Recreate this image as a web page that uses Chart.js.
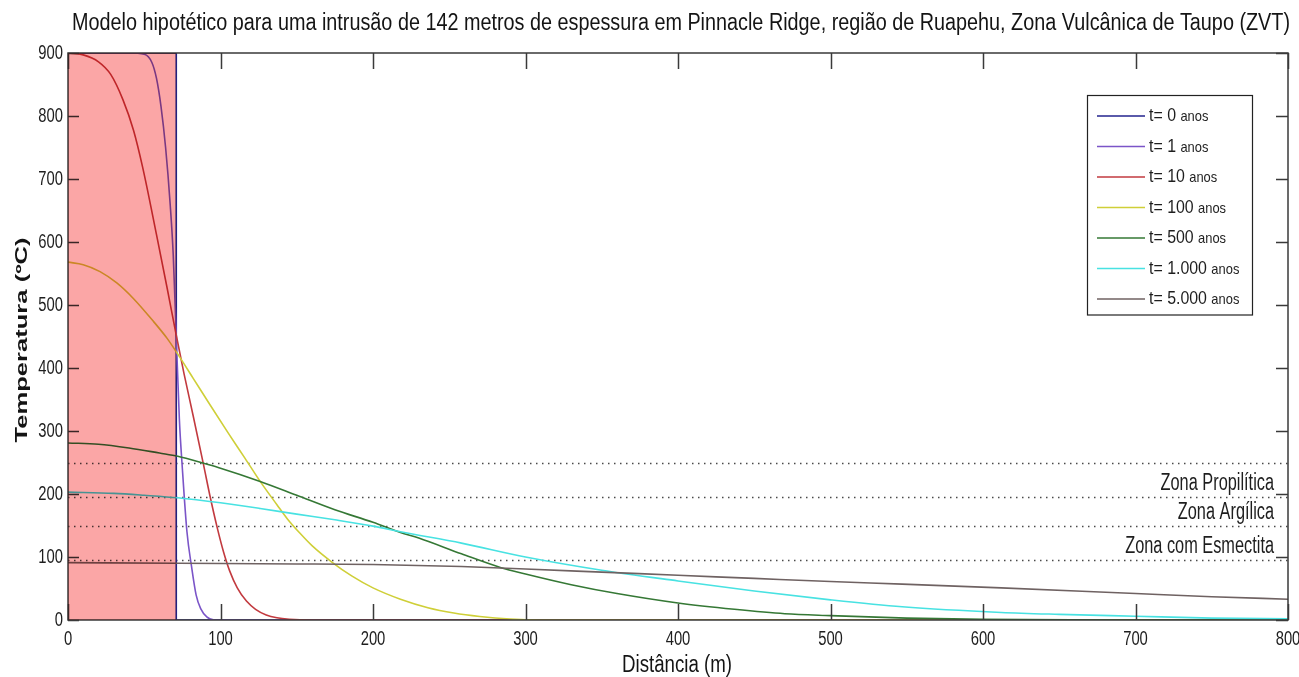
<!DOCTYPE html>
<html lang="pt">
<head>
<meta charset="UTF-8">
<title>Modelo hipotético - intrusão de 142 m</title>
<script src="https://cdn.jsdelivr.net/npm/chart.js"></script>
<style>
  html, body { margin: 0; padding: 0; background: #fff; }
  #wrap { width: 1299px; height: 677px; position: relative; }
</style>
</head>
<body>
<div id="wrap"><canvas id="myChart"></canvas></div>
<script>
// ---- dados ----
const seriesLabels = ["t= 0", "t= 1", "t= 10", "t= 100", "t= 500", "t= 1.000", "t= 5.000"];
const seriesColors = ["#23238e", "#7b55c8", "#c23a3f", "#cfcf38", "#357835", "#48e2e2", "#6f6262"];

const distT0 = [0, 71, 71, 800];
const tempT0 = [900, 900, 0, 0];

const distT1 = [0, 40, 50, 55, 58, 61, 64, 67, 69, 71, 73, 75, 78, 81, 84, 87, 91, 96, 800];
const tempT1 = [900, 900, 898, 885, 860, 815, 750, 660, 580, 450, 320, 240, 140, 85, 40, 18, 5, 0, 0];

const distT10 = [0, 10, 20, 28, 36, 43, 49, 58, 65, 71, 76, 82, 89, 93, 98, 102, 106, 111, 117, 123, 130, 137, 145, 160, 800];
const tempT10 = [900, 897, 886, 866, 826, 777, 718, 612, 527, 452, 392, 325, 245, 198, 145, 108, 78, 51, 30, 17, 8, 3.5, 1.2, 0, 0];

const distT100 = [0, 10, 21, 32, 43, 56, 65, 72, 82, 93, 105, 116, 126, 137, 144, 152, 160, 173, 186, 200, 218, 236, 253, 270, 290, 310, 800];
const tempT100 = [568, 564, 553, 535, 510, 474, 447, 422, 384, 342, 297, 257, 220, 183, 160, 138, 118, 92, 70, 51, 33, 19.5, 11, 5.5, 1.5, 0, 0];

const distT500 = [0, 20, 40, 60, 72, 90, 100, 126, 150, 175, 200, 218, 230, 258, 284, 300, 330, 360, 400, 437, 470, 500, 550, 600, 700, 800];
const tempT500 = [281, 279, 273, 265, 260, 248, 241, 220, 198, 175, 155, 139, 130, 105, 83, 73, 56, 42, 27, 17, 10, 7, 3, 1, 0, 0];

const distT1000 = [0, 30, 50, 72, 100, 126, 150, 175, 200, 218, 258, 300, 350, 400, 450, 500, 547, 612, 650, 700, 750, 800];
const tempT1000 = [203, 201, 198, 194, 186, 177, 168, 159, 149, 140, 122, 100, 79, 62, 46, 32, 21, 12, 9, 6, 3, 2];

const distT5000 = [0, 72, 150, 200, 258, 300, 350, 400, 450, 500, 547, 612, 700, 750, 800];
const tempT5000 = [91, 90, 89, 88, 85, 81, 76, 71, 66, 61, 57, 51, 42, 37, 33];

const xTicks = [0, 100, 200, 300, 400, 500, 600, 700, 800];
const yTicks = [0, 100, 200, 300, 400, 500, 600, 700, 800, 900];

const intrusionHalf = 71;                 // metade dos 142 m
const zoneLines = [250, 195, 150, 95];    // linhas pontilhadas
const zoneNames = ["Zona Propilítica", "Zona Argílica", "Zona com Esmectita"];

const chartTitle = "Modelo hipotético para uma intrusão de 142 metros de espessura em Pinnacle Ridge, região de Ruapehu, Zona Vulcânica de Taupo (ZVT)";

// ---- helpers ----
const FAM = '"Liberation Sans", Arial, sans-serif';

function toPoints(xs, ys) {
  return xs.map((x, i) => ({ x: x, y: ys[i] }));
}

function squeezed(ctx, text, x, y, size, sx, align, weight) {
  ctx.save();
  ctx.font = (weight || "normal") + " " + size + "px " + FAM;
  ctx.textBaseline = "middle";
  ctx.textAlign = align || "left";
  ctx.fillStyle = "#1e1e1e";
  ctx.translate(x, y);
  ctx.scale(sx, 1);
  ctx.fillText(text, 0, 0);
  ctx.restore();
}

function fitted(ctx, text, x, y, size, width, weight, angle) {
  ctx.save();
  ctx.font = (weight || "normal") + " " + size + "px " + FAM;
  const w = ctx.measureText(text).width;
  ctx.textBaseline = "middle";
  ctx.textAlign = "center";
  ctx.fillStyle = "#141414";
  ctx.translate(x, y);
  if (angle) ctx.rotate(angle);
  ctx.scale(width / w, 1);
  ctx.fillText(text, 0, 0);
  ctx.restore();
}

const datasets = [
  [distT0, tempT0], [distT1, tempT1], [distT10, tempT10], [distT100, tempT100],
  [distT500, tempT500], [distT1000, tempT1000], [distT5000, tempT5000]
].map((s, i) => ({
  label: seriesLabels[i] + " anos",
  data: toPoints(s[0], s[1]),
  borderColor: seriesColors[i],
  borderWidth: 1.6,
  pointRadius: 0,
  fill: false,
  order: seriesLabels.length - i,
  tension: i === 0 ? 0 : 0.4,
  cubicInterpolationMode: i === 0 ? "default" : "monotone"
}));

// desenha caixa estilo MATLAB, zona da intrusão, legenda e textos
const matlabPlugin = {
  id: "matlabStyle",
  beforeDraw(chart) {
    const ctx = chart.ctx;
    ctx.save();
    ctx.fillStyle = "#fff";
    ctx.fillRect(0, 0, chart.width, chart.height);
    ctx.restore();
  },
  beforeDatasetsDraw(chart) {
    const ctx = chart.ctx, a = chart.chartArea, ys = chart.scales.y;
    ctx.save();
    ctx.strokeStyle = "#4a4a4a";
    ctx.lineWidth = 1.4;
    ctx.setLineDash([1.5, 4.5]);
    zoneLines.forEach(v => {
      const py = Math.round(ys.getPixelForValue(v)) + 0.5;
      ctx.beginPath();
      ctx.moveTo(a.left, py);
      ctx.lineTo(a.right, py);
      ctx.stroke();
    });
    ctx.restore();
  },
  afterDatasetsDraw(chart) {
    const ctx = chart.ctx, a = chart.chartArea, xs = chart.scales.x, ys = chart.scales.y;
    ctx.save();
    ctx.strokeStyle = "#3a3a3a";
    ctx.lineWidth = 1.5;
    ctx.strokeRect(a.left, a.top, a.right - a.left, a.bottom - a.top);
    ctx.beginPath();
    xTicks.forEach(v => {
      const px = Math.round(xs.getPixelForValue(v)) + 0.5;
      ctx.moveTo(px, a.bottom); ctx.lineTo(px, a.bottom - 16);
      ctx.moveTo(px, a.top); ctx.lineTo(px, a.top + 16);
    });
    yTicks.forEach(v => {
      const py = Math.round(ys.getPixelForValue(v)) + 0.5;
      ctx.moveTo(a.left, py); ctx.lineTo(a.left + 11, py);
      ctx.moveTo(a.right, py); ctx.lineTo(a.right - 12, py);
    });
    ctx.stroke();
    // zona da intrusão (multiplicada como no original)
    const xr = xs.getPixelForValue(intrusionHalf);
    ctx.globalCompositeOperation = "multiply";
    ctx.fillStyle = "rgb(251,166,166)";
    ctx.fillRect(a.left, a.top, xr - a.left, a.bottom - a.top);
    ctx.restore();
  },
  afterDraw(chart) {
    const ctx = chart.ctx, a = chart.chartArea, xs = chart.scales.x, ys = chart.scales.y;
    // tick labels
    xTicks.forEach(v => squeezed(ctx, String(v), xs.getPixelForValue(v), 639, 20, 0.74, "center"));
    yTicks.forEach(v => squeezed(ctx, String(v), a.left - 5, ys.getPixelForValue(v), 20, 0.74, "right"));
    // titles
    fitted(ctx, chartTitle, 681, 24, 23, 1218);
    fitted(ctx, "Distância (m)", 677, 666, 23, 110);
    fitted(ctx, "Temperatura (ºC)", 23, 340, 16, 205, "bold", -Math.PI / 2);
    // zonas
    zoneNames.forEach((n, i) => {
      squeezed(ctx, n, 1274, ys.getPixelForValue(zoneLines[i + 1]) - 13, 23, 0.71, "right");
    });
    // legenda
    const lx = 1087, ly = 95, lw = 165, step = 30.5;
    const n = chart.data.datasets.length;
    ctx.save();
    ctx.fillStyle = "#fff";
    ctx.fillRect(lx, ly, lw, step * n + 6);
    ctx.strokeStyle = "#222";
    ctx.lineWidth = 1.2;
    ctx.strokeRect(lx + 0.5, ly + 0.5, lw, step * n + 6);
    chart.data.datasets.forEach((d, i) => {
      const cy = ly + 21 + i * step;
      ctx.strokeStyle = d.borderColor;
      ctx.lineWidth = 1.6;
      ctx.beginPath();
      ctx.moveTo(lx + 10, cy); ctx.lineTo(lx + 58, cy);
      ctx.stroke();
      const first = seriesLabels[i] + " ";
      ctx.font = "18.5px " + FAM;
      const w1 = ctx.measureText(first).width * 0.86;
      squeezed(ctx, first, lx + 62, cy, 18.5, 0.86, "left");
      squeezed(ctx, "anos", lx + 62 + w1, cy + 1, 15, 0.86, "left");
    });
    ctx.restore();
  }
};

new Chart(document.getElementById("myChart").getContext("2d"), {
  type: "line",
  data: { datasets: datasets },
  options: {
    responsive: true,
    maintainAspectRatio: false,
    animation: false,
    layout: { padding: { top: 53, right: 11, bottom: 0, left: 0 } },
    plugins: { legend: { display: false }, title: { display: false }, tooltip: { enabled: false } },
    scales: {
      x: {
        type: "linear", min: 0, max: 800,
        ticks: { display: false, stepSize: 100 },
        grid: { display: false, drawTicks: false },
        border: { display: false },
        afterFit: s => { s.height = 57; }
      },
      y: {
        type: "linear", min: 0, max: 900,
        ticks: { display: false, stepSize: 100 },
        grid: { display: false, drawTicks: false },
        border: { display: false },
        afterFit: s => { s.width = 68; }
      }
    }
  },
  plugins: [matlabPlugin]
});
</script>
</body>
</html>
